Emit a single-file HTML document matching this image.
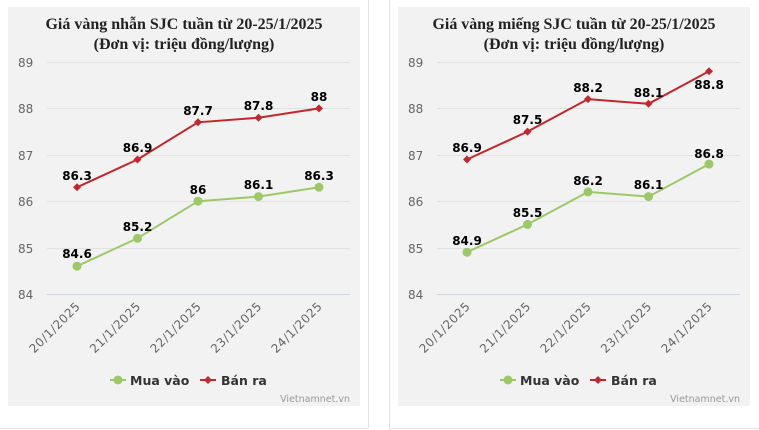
<!DOCTYPE html>
<html><head><meta charset="utf-8"><style>
html,body{margin:0;padding:0;background:#fff;}
svg{display:block}
.t{font-family:"Liberation Serif",serif;font-weight:bold;font-size:16px;fill:#222;}
.ax{font-family:"DejaVu Sans","Liberation Sans",sans-serif;font-size:12px;fill:#666;}
.xl{font-family:"DejaVu Sans","Liberation Sans",sans-serif;font-size:12px;fill:#666;letter-spacing:0.5px;}
.dl{font-family:"DejaVu Sans","Liberation Sans",sans-serif;font-size:12px;font-weight:bold;fill:#000;}
.lg{font-family:"DejaVu Sans","Liberation Sans",sans-serif;font-size:12.5px;font-weight:bold;fill:#333;}
.wm{font-family:"DejaVu Sans","Liberation Sans",sans-serif;font-size:9.5px;fill:#999;}
</style></head><body>
<svg width="759" height="430" viewBox="0 0 759 430" xmlns="http://www.w3.org/2000/svg">
<line x1="368.5" y1="0" x2="368.5" y2="428" stroke="#e3e3e3"/>
<line x1="389.5" y1="0" x2="389.5" y2="428" stroke="#e3e3e3"/>
<line x1="0" y1="428.5" x2="368" y2="428.5" stroke="#e3e3e3"/>
<line x1="389" y1="428.5" x2="759" y2="428.5" stroke="#e3e3e3"/>
<rect x="8" y="7" width="352" height="399" fill="#f2f2f2"/>
<rect x="398" y="7" width="352" height="399" fill="#f2f2f2"/>

<g>
<text class="t" x="184" y="29" text-anchor="middle" textLength="277" lengthAdjust="spacingAndGlyphs">Giá vàng nhẫn SJC tuần từ 20-25/1/2025</text>
<text class="t" x="184" y="49" text-anchor="middle">(Đơn vị: triệu đồng/lượng)</text>
<g stroke="#e2e2e2" stroke-width="1">
<line x1="47" y1="62.5" x2="350" y2="62.5"/><line x1="47" y1="108.5" x2="350" y2="108.5"/>
<line x1="47" y1="155.5" x2="350" y2="155.5"/><line x1="47" y1="201.5" x2="350" y2="201.5"/>
<line x1="47" y1="248.5" x2="350" y2="248.5"/></g>
<line x1="47" y1="294.5" x2="350" y2="294.5" stroke="#ccd6eb"/>
<g class="ax" text-anchor="start">
<text x="18" y="67">89</text><text x="18" y="113">88</text><text x="18" y="160">87</text>
<text x="18" y="206">86</text><text x="18" y="253">85</text><text x="18" y="299">84</text></g>
<g class="xl" text-anchor="end">
<text transform="translate(81,307) rotate(-45)">20/1/2025</text>
<text transform="translate(141.5,307) rotate(-45)">21/1/2025</text>
<text transform="translate(202,307) rotate(-45)">22/1/2025</text>
<text transform="translate(262.5,307) rotate(-45)">23/1/2025</text>
<text transform="translate(323,307) rotate(-45)">24/1/2025</text></g>
<polyline points="77,266.2 137.5,238.3 198,201.2 258.5,196.6 319,187.3" fill="none" stroke="#9dc868" stroke-width="2"/>
<g fill="#9dc868"><circle cx="77" cy="266.2" r="4.5"/><circle cx="137.5" cy="238.3" r="4.5"/><circle cx="198" cy="201.2" r="4.5"/><circle cx="258.5" cy="196.6" r="4.5"/><circle cx="319" cy="187.3" r="4.5"/></g>
<polyline points="77,187.3 137.5,159.5 198,122.3 258.5,117.7 319,108.4" fill="none" stroke="#c0282d" stroke-width="2"/>
<g fill="#c0282d">
<path d="M77 183.3l4 4-4 4-4-4z"/><path d="M137.5 155.5l4 4-4 4-4-4z"/><path d="M198 118.3l4 4-4 4-4-4z"/><path d="M258.5 113.7l4 4-4 4-4-4z"/><path d="M319 104.4l4 4-4 4-4-4z"/></g>
<g class="dl" text-anchor="middle">
<text x="77" y="258">84.6</text><text x="137.5" y="231">85.2</text><text x="198" y="194">86</text><text x="258.5" y="189">86.1</text><text x="319" y="180">86.3</text>
<text x="77" y="180">86.3</text><text x="137.5" y="152">86.9</text><text x="198" y="115">87.7</text><text x="258.5" y="110">87.8</text><text x="319" y="101">88</text></g>
<line x1="110" y1="380" x2="126" y2="380" stroke="#9dc868" stroke-width="2"/><circle cx="118" cy="380" r="4.5" fill="#9dc868"/>
<text class="lg" x="130" y="385">Mua vào</text>
<line x1="200" y1="380" x2="216" y2="380" stroke="#c0282d" stroke-width="2"/><path d="M208 376l4 4-4 4-4-4z" fill="#c0282d"/>
<text class="lg" x="221" y="385">Bán ra</text>
<text class="wm" x="350" y="402" text-anchor="end">Vietnamnet.vn</text>
</g>

<g>
<text class="t" x="574" y="29" text-anchor="middle" textLength="283" lengthAdjust="spacingAndGlyphs">Giá vàng miếng SJC tuần từ 20-25/1/2025</text>
<text class="t" x="574" y="49" text-anchor="middle">(Đơn vị: triệu đồng/lượng)</text>
<g stroke="#e2e2e2" stroke-width="1">
<line x1="437" y1="62.5" x2="740" y2="62.5"/><line x1="437" y1="108.5" x2="740" y2="108.5"/>
<line x1="437" y1="155.5" x2="740" y2="155.5"/><line x1="437" y1="201.5" x2="740" y2="201.5"/>
<line x1="437" y1="248.5" x2="740" y2="248.5"/></g>
<line x1="437" y1="294.5" x2="740" y2="294.5" stroke="#ccd6eb"/>
<g class="ax" text-anchor="start">
<text x="408" y="67">89</text><text x="408" y="113">88</text><text x="408" y="160">87</text>
<text x="408" y="206">86</text><text x="408" y="253">85</text><text x="408" y="299">84</text></g>
<g class="xl" text-anchor="end">
<text transform="translate(471,307) rotate(-45)">20/1/2025</text>
<text transform="translate(531.5,307) rotate(-45)">21/1/2025</text>
<text transform="translate(592,307) rotate(-45)">22/1/2025</text>
<text transform="translate(652.5,307) rotate(-45)">23/1/2025</text>
<text transform="translate(713,307) rotate(-45)">24/1/2025</text></g>
<polyline points="467,252.2 527.5,224.4 588,191.9 648.5,196.6 709,164.1" fill="none" stroke="#9dc868" stroke-width="2"/>
<g fill="#9dc868"><circle cx="467" cy="252.2" r="4.5"/><circle cx="527.5" cy="224.4" r="4.5"/><circle cx="588" cy="191.9" r="4.5"/><circle cx="648.5" cy="196.6" r="4.5"/><circle cx="709" cy="164.1" r="4.5"/></g>
<polyline points="467,159.5 527.5,131.6 588,99.1 648.5,103.8 709,71.3" fill="none" stroke="#c0282d" stroke-width="2"/>
<g fill="#c0282d">
<path d="M467 155.5l4 4-4 4-4-4z"/><path d="M527.5 127.6l4 4-4 4-4-4z"/><path d="M588 95.1l4 4-4 4-4-4z"/><path d="M648.5 99.8l4 4-4 4-4-4z"/><path d="M709 67.3l4 4-4 4-4-4z"/></g>
<g class="dl" text-anchor="middle">
<text x="467" y="245">84.9</text><text x="527.5" y="217">85.5</text><text x="588" y="185">86.2</text><text x="648.5" y="189">86.1</text><text x="709" y="158">86.8</text>
<text x="467" y="152">86.9</text><text x="527.5" y="124">87.5</text><text x="588" y="92">88.2</text><text x="648.5" y="97">88.1</text><text x="709" y="89">88.8</text></g>
<line x1="500" y1="380" x2="516" y2="380" stroke="#9dc868" stroke-width="2"/><circle cx="508" cy="380" r="4.5" fill="#9dc868"/>
<text class="lg" x="520" y="385">Mua vào</text>
<line x1="590" y1="380" x2="606" y2="380" stroke="#c0282d" stroke-width="2"/><path d="M598 376l4 4-4 4-4-4z" fill="#c0282d"/>
<text class="lg" x="611" y="385">Bán ra</text>
<text class="wm" x="740" y="402" text-anchor="end">Vietnamnet.vn</text>
</g>
</svg>
</body></html>
